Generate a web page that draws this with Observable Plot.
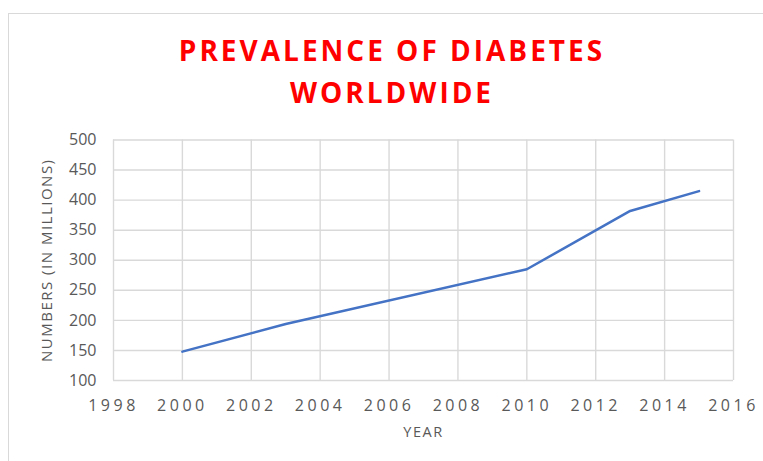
<!DOCTYPE html>
<html>
<head>
<meta charset="utf-8">
<script src="https://cdn.jsdelivr.net/npm/d3@7"></script>
<script src="https://cdn.jsdelivr.net/npm/@observablehq/plot@0.6"></script>
<style>
  html, body { margin: 0; padding: 0; background: #fff; }
  #wrap { position: relative; width: 763px; height: 461px; overflow: hidden; background: #fff; }
  #frame { position: absolute; left: 8px; top: 13px; width: 900px; height: 600px;
           border: 1.5px solid #d9d9d9; box-sizing: border-box; }
  #title { position: absolute; left: 0; top: 29px; width: 784px; text-align: center;
           font-family: "Open Sans", sans-serif; font-weight: 700; font-size: 28px;
           line-height: 42px; letter-spacing: 3px; color: #ff0000; }
  #chart { position: absolute; left: 0; top: 0; }
</style>
</head>
<body>
<div id="wrap">
  <div id="frame"></div>
  <div id="chart"></div>
  <div id="title">PREVALENCE OF DIABETES<br>WORLDWIDE</div>
</div>
<script>
// Estimated number of people living with diabetes (millions)
const years = [2000, 2003, 2010, 2013, 2015];
const numbers = [148, 194, 285, 382, 415];

// Axis ticks
const xTicks = [1998, 2000, 2002, 2004, 2006, 2008, 2010, 2012, 2014, 2016];
const yTicks = [100, 150, 200, 250, 300, 350, 400, 450, 500];

const xTitle = "YEAR";
const yTitle = "NUMBERS (IN MILLIONS)";

const data = years.map((year, i) => ({year, value: numbers[i]}));

const gridColor = "#d9d9d9";
const textColor = "#595959";

const chart = Plot.plot({
  width: 763,
  height: 461,
  marginTop: 139.5,
  marginBottom: 81,
  marginLeft: 113,
  marginRight: 30,
  style: {fontFamily: "Open Sans, sans-serif", fontSize: "16px", color: textColor, background: "transparent"},
  x: {domain: [1998, 2016]},
  y: {domain: [100, 500]},
  marks: [
    Plot.gridX(xTicks, {stroke: gridColor, strokeOpacity: 1, strokeWidth: 1.4}),
    Plot.gridY(yTicks, {stroke: gridColor, strokeOpacity: 1, strokeWidth: 1.4}),
    Plot.axisX(xTicks, {tickSize: 0, tickPadding: 19, tickFormat: "d", label: null, fill: textColor}),
    Plot.axisY(yTicks, {tickSize: 0, tickPadding: 17, tickFormat: "d", label: null, fill: textColor}),
    Plot.text([xTitle], {frameAnchor: "bottom", dy: 56, textAnchor: "middle", fill: textColor, fontSize: 14.5, text: d => d}),
    Plot.text([yTitle], {frameAnchor: "left", dx: -66, rotate: -90, textAnchor: "middle", fill: textColor, fontSize: 15, text: d => d}),
    Plot.line(data, {x: "year", y: "value", stroke: "#4472c4", strokeWidth: 2.5})
  ]
});

document.getElementById("chart").appendChild(chart);

// Wider spacing on the year labels and axis titles
d3.select(chart).selectAll('[aria-label="x-axis tick label"] text').style("letter-spacing", "3.5px");
d3.select(chart).selectAll('[aria-label="text"] text').style("letter-spacing", "1.5px");
</script>
</body>
</html>
